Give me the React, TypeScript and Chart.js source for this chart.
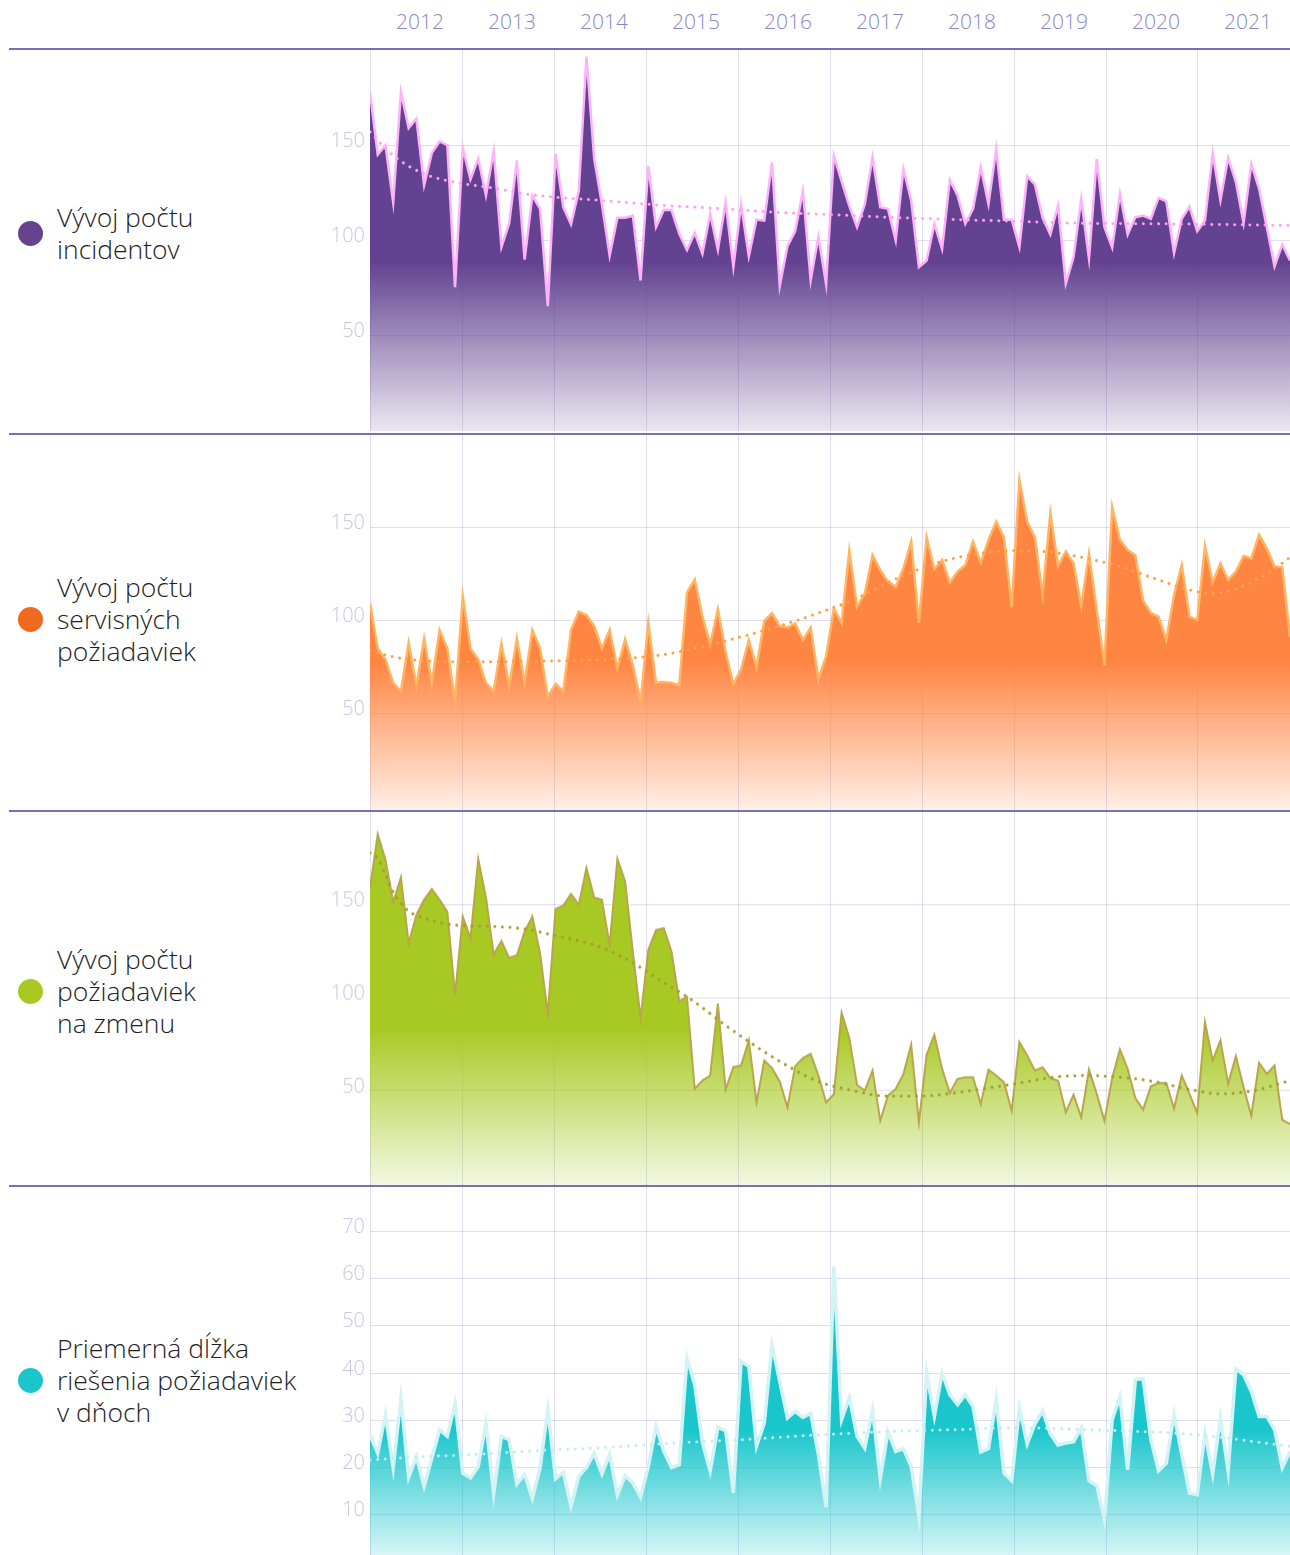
import React, { useEffect, useRef } from 'react';
import { Chart, registerables } from 'chart.js';

Chart.register(...registerables);

const FONT = '"Open Sans", "Noto Sans", sans-serif';

// ---------- data ----------
const YEARS = ['2012', '2013', '2014', '2015', '2016', '2017', '2018', '2019', '2020', '2021'];
const LAST_INDEX = 119; // monthly points 0..119

const incidents = [
  178, 145, 150, 120, 178, 159, 164, 129, 146, 152, 150, 75.5,
  148.6, 132, 143, 123.6, 147, 96.5, 109, 142, 90, 123.6, 116.6, 65.5,
  145.5, 117.5, 108.5, 126, 196.5, 143, 119, 92, 112, 112, 113, 79,
  139, 107, 116, 116, 103.5, 95, 104, 93, 114, 95, 120, 86,
  119, 91.6, 111, 110.5, 141, 76, 97, 105, 126, 79, 102, 77,
  144.6, 131, 118, 107, 119, 143.7, 117.5, 116.6, 100, 137.6, 121, 86,
  89.5, 108.7, 95.6, 131.8, 123.6, 108.7, 116.6, 138.5, 119, 148, 110.9, 110.9,
  96.5, 133.6, 129.4, 111.9, 103.1, 118.4, 77.3, 91.2, 121.9, 90.4, 142.8, 107,
  96.2, 124.5, 103.1, 112.2, 113.1, 111.4, 122.4, 120.6, 93.3, 111.4, 117.8, 104.9,
  110.5, 145.5, 121, 143.4, 130.6, 109.1, 140.2, 127.1, 107, 86.4, 97.9, 89.5,
];
const incidentsTrendX = [0, 3, 7, 11, 16, 20, 24, 29, 33, 37, 42, 46, 50, 55, 59, 67, 76, 84, 93, 102, 110, 119];
const incidentsTrendY = [157, 144.6, 135, 130.6, 127.5, 124.5, 122.7, 121.3, 120, 118.7, 117.5, 116.6, 115.4, 114.3, 113.7, 112.2, 111, 110, 109, 108.8, 108.4, 107.9];

const service = [
  109.5, 85, 79, 66.5, 62, 88, 64.7, 90.3, 66.5, 94.8, 85, 56.3,
  113, 85, 79, 66.5, 62, 87.6, 64.7, 90.3, 66.5, 94.8, 85, 59,
  66, 62, 94.8, 104.7, 102.9, 97, 85, 95, 74.2, 89.8, 76, 56.3,
  98.7, 66.5, 67, 66.5, 65.2, 114.9, 122, 102, 87.3, 106, 83, 65.8,
  73.7, 89.4, 75, 99.8, 103.8, 97, 96.2, 98.4, 89.4, 96.2, 68.3, 80.8,
  106.5, 98.7, 137.5, 107.3, 114.5, 135, 127, 120.8, 118, 128, 142.3, 98.7,
  144.6, 127.4, 132.4, 120.3, 126.2, 129.7, 142.3, 131, 143.2, 153, 144.6, 107,
  175.4, 153, 144.6, 113.6, 157.5, 129.2, 137, 130.6, 107.7, 135.7, 105.6, 76,
  161, 143.2, 137.8, 135, 110.6, 104, 102, 89.4, 113.6, 129.7, 102, 100.2,
  140, 120.3, 130.6, 121.7, 126.2, 134.6, 133.3, 145.9, 138.7, 128.9, 128.5, 91.2,
];
const serviceTrendX = [0, 3, 7, 11.5, 16, 20, 24.5, 29, 33, 37.5, 42, 46, 50.4, 54.7, 58, 62.5, 66.8, 71, 75.5, 79.8, 84, 88.4, 92.7, 97, 101.4, 105.7, 108.7, 112.2, 116.5, 119];
const serviceTrendY = [83.7, 80.5, 78.3, 77.8, 77.8, 78, 78.3, 78.7, 79.6, 81.4, 85, 89, 93.9, 99.3, 104, 111, 120, 127.4, 133.3, 136.4, 137.5, 136.4, 133.3, 128.9, 122.6, 116.7, 114.5, 117.2, 126.2, 133.9];

const changes = [
  159, 188, 174.3, 151.4, 164.7, 129.3, 144.6, 152.7, 158.6, 152.7, 146.4, 101.7,
  143.7, 132, 174.8, 154, 123.3, 130.5, 121.5, 122.9, 135.6, 143.7, 123.9, 91.4,
  147.8, 149.6, 155.8, 150, 169.8, 154, 152.7, 128.4, 174.8, 162.6, 124.8, 89.1,
  125.7, 136.5, 137.4, 124.8, 98.1, 100.5, 50.9, 55.4, 58.1, 96.8, 50.5, 62.6,
  63.5, 77, 43.7, 66.2, 62.1, 54.9, 41, 63.2, 67.5, 69.8, 58.1, 43.7,
  48, 92, 78.3, 53, 50, 60.8, 33.8, 47.3, 50.9, 59, 74.7, 32.9,
  69.3, 80.1, 61.7, 48.7, 56.3, 57.2, 57.2, 42.8, 61.3, 58.1, 54.5, 39.2,
  76.1, 68.9, 60.8, 62.6, 56.7, 55.4, 38.3, 47.7, 35.6, 61.3, 48.2, 33.8,
  56.7, 72.2, 61.7, 45.9, 39.7, 52.3, 54.1, 54.1, 40.4, 58.1, 48.2, 37.9,
  86.9, 66.2, 77, 53.6, 68.6, 51.8, 36.5, 65, 59, 63.5, 34.3, 32,
];
const changesTrendX = [0, 1, 2, 3, 4.6, 7, 11.5, 16, 20, 24.5, 29, 33, 37.5, 42, 46, 50.4, 54.7, 58.2, 62.5, 66.8, 71, 75.5, 79.8, 84, 88.4, 92.7, 97, 101.4, 105.7, 110, 114.3, 119];
const changesTrendY = [178, 175, 166, 157, 148, 142.8, 138.9, 138.3, 137, 132.9, 128.4, 121.2, 109.5, 97.7, 85.1, 72.5, 61.7, 54.5, 50, 47, 47, 48.7, 51.3, 54.1, 57.2, 58.1, 57.2, 54.9, 50.9, 48.2, 50, 55.4];

const resolution = [
  26.9, 23, 31.2, 19.9, 34.7, 17.9, 22.3, 16, 22, 28, 26.6, 33.6,
  18.8, 17.8, 20.2, 29.4, 14.4, 26.6, 25.9, 16.5, 18.6, 13.4, 19.9, 32.2,
  17.6, 19, 11.8, 18.1, 20, 23, 18.6, 22.8, 14.1, 18.3, 16.7, 13.7,
  20.2, 28.7, 23.4, 20, 20.6, 43.2, 37.5, 25.2, 19.2, 28.5, 27.8, 14.6,
  42.5, 41.4, 24.5, 29.4, 46, 38.2, 30.5, 31.9, 30.6, 31.5, 22.7, 11.6,
  62.6, 30.1, 34.8, 26.6, 24.1, 32.2, 17.6, 27.6, 23.4, 24, 20.2, 9.6,
  40, 30.8, 40, 35.4, 33.3, 35.4, 32.9, 23.3, 24, 34.4, 18.8, 17.2,
  32.6, 25, 29.2, 32, 27.1, 24.7, 25.2, 25.4, 28.4, 17.2, 16.2, 8.9,
  30.1, 35, 19.5, 38.6, 38.8, 25.9, 19.3, 20.9, 31.2, 22.7, 14.6, 14.2,
  27.3, 18.6, 30.5, 19.2, 40.9, 39.6, 36.1, 30.8, 30.8, 28, 19.9, 23.4,
];
const resolutionTrendX = [0, 7, 11.5, 16, 20, 24.5, 29, 33, 37.5, 42, 46, 50.4, 54.7, 58.2, 66.8, 75.5, 84, 92.7, 101.4, 105.7, 110, 114.3, 119];
const resolutionTrendY = [21.6, 22.3, 22.6, 23, 23.4, 23.8, 24.1, 24.5, 25, 25.4, 25.7, 26.1, 26.6, 26.9, 27.6, 28, 28.4, 28, 27.5, 27.1, 26.4, 25.5, 24.5];

const LABEL_INCIDENTS = ['Vývoj počtu', 'incidentov'];
const LABEL_SERVICE = ['Vývoj počtu', 'servisných', 'požiadaviek'];
const LABEL_CHANGES = ['Vývoj počtu', 'požiadaviek', 'na zmenu'];
const LABEL_RESOLUTION = ['Priemerná dĺžka', 'riešenia požiadaviek', 'v dňoch'];

// ---------- panel specs (layout / style) ----------
type Panel = {
  values: number[];
  trendX: number[];
  trendY: number[];
  yMin: number;
  yMax: number;
  step: number;
  fill: [number, number, number];
  line: string;
  lineWidth: number;
  trend: string;
  dot: string;
  label: string[];
  top: number;
  height: number;
  labelY: number;
};

const PANELS: Panel[] = [
  { values: incidents, trendX: incidentsTrendX, trendY: incidentsTrendY, yMin: 0, yMax: 200, step: 50,
    fill: [99, 67, 145], line: '#ffb2fb', lineWidth: 2.5, trend: '#ff9ef5', dot: '#65438f',
    label: LABEL_INCIDENTS, top: 50, height: 381, labelY: 233 },
  { values: service, trendX: serviceTrendX, trendY: serviceTrendY, yMin: -1.7, yMax: 200, step: 50,
    fill: [255, 133, 67], line: '#ffb562', lineWidth: 2.5, trend: '#ffa247', dot: '#ef6a1f',
    label: LABEL_SERVICE, top: 434, height: 376, labelY: 619 },
  { values: changes, trendX: changesTrendX, trendY: changesTrendY, yMin: -1.4, yMax: 200, step: 50,
    fill: [168, 201, 35], line: '#b9a54a', lineWidth: 2, trend: '#a59d2c', dot: '#a8c923',
    label: LABEL_CHANGES, top: 812, height: 373.5, labelY: 991 },
  { values: resolution, trendX: resolutionTrendX, trendY: resolutionTrendY, yMin: 0, yMax: 80, step: 10,
    fill: [25, 198, 204], line: '#d3f3f5', lineWidth: 3.5, trend: '#c3edf1', dot: '#1ac5cc',
    label: LABEL_RESOLUTION, top: 1184, height: 378, labelY: 1380 },
];

const GRID = 'rgba(95, 85, 175, 0.2)';

function PanelChart({ p }: { p: Panel }) {
  const ref = useRef<HTMLCanvasElement>(null);
  useEffect(() => {
    const canvas = ref.current;
    if (!canvas) return;
    const [r, g, b] = p.fill;
    const peak = Math.max(...p.values);
    const chart = new Chart(canvas, {
      type: 'line',
      data: {
        datasets: [
          {
            data: p.trendX.map((x, i) => ({ x, y: p.trendY[i] })),
            borderColor: p.trend,
            borderWidth: 3,
            borderDash: [0.01, 7.6],
            borderCapStyle: 'round',
            pointRadius: 0,
            fill: false,
            cubicInterpolationMode: 'monotone',
            order: 0,
          },
          {
            data: p.values.map((y, i) => ({ x: i, y })),
            borderColor: p.line,
            borderWidth: p.lineWidth,
            borderJoinStyle: 'miter',
            pointRadius: 0,
            tension: 0,
            fill: 'start',
            order: 1,
            backgroundColor: (ctx: any) => {
              const c = ctx.chart;
              const area = c.chartArea;
              if (!area || !c.scales.y) return `rgb(${r},${g},${b})`;
              const topPx = c.scales.y.getPixelForValue(peak);
              const grad = c.ctx.createLinearGradient(0, topPx, 0, area.bottom);
              grad.addColorStop(0, `rgba(${r},${g},${b},1)`);
              grad.addColorStop(0.55, `rgba(${r},${g},${b},1)`);
              grad.addColorStop(1, `rgba(${r},${g},${b},0.13)`);
              return grad;
            },
          },
        ],
      },
      options: {
        animation: false,
        responsive: false,
        maintainAspectRatio: false,
        devicePixelRatio: 1,
        layout: { padding: 0 },
        plugins: { legend: { display: false }, tooltip: { enabled: false } },
        scales: {
          x: {
            type: 'linear',
            min: 0,
            max: LAST_INDEX,
            z: 1,
            border: { display: false },
            grid: { color: GRID, drawTicks: false, lineWidth: 1 },
            ticks: { display: false },
            afterBuildTicks: (s: any) => {
              s.ticks = YEARS.map((_, k) => ({ value: (k * LAST_INDEX) / YEARS.length }));
            },
            afterFit: (s: any) => {
              s.height = 0;
            },
          },
          y: {
            min: p.yMin,
            max: p.yMax,
            z: 1,
            border: { display: false },
            grid: { color: GRID, drawTicks: false, lineWidth: 1 },
            afterBuildTicks: (s: any) => {
              const t: any[] = [];
              for (let v = p.step; v < p.yMax; v += p.step) t.push({ value: v });
              s.ticks = t;
            },
            ticks: {
              padding: 5,
              labelOffset: -4,
              color: '#c9c5e3',
              font: { family: FONT, size: 20, weight: '300' as any },
              callback: (v: any) => String(v),
            },
            afterFit: (s: any) => {
              s.width = 50;
              s.paddingTop = 0;
              s.paddingBottom = 0;
            },
          },
        },
      },
    } as any);
    return () => chart.destroy();
  }, [p]);
  return (
    <canvas
      ref={ref}
      width={970}
      height={p.height}
      style={{ position: 'absolute', left: 320, top: p.top, width: 970, height: p.height }}
    />
  );
}

const SEPARATORS = [48, 432.5, 809.5, 1185];

export default function App() {
  useEffect(() => {
    document.body.style.margin = '0';
  }, []);
  return (
    <div
      style={{
        position: 'relative',
        width: 1290,
        height: 1555,
        overflow: 'hidden',
        background: '#fff',
        fontFamily: FONT,
      }}
    >
      <div style={{ position: 'absolute', left: 374, top: 0, width: 920, height: 43, display: 'flex' }}>
        {YEARS.map((y) => (
          <div
            key={y}
            style={{ flex: 1, textAlign: 'center', lineHeight: '43px', fontSize: 21, fontWeight: 300, color: '#8986c4' }}
          >
            {y}
          </div>
        ))}
      </div>
      {PANELS.map((p, i) => (
        <PanelChart key={i} p={p} />
      ))}
      {SEPARATORS.map((t, i) => (
        <div key={i} style={{ position: 'absolute', left: 9, top: t, width: 1281, height: 2, background: '#7472b5' }} />
      ))}
      {PANELS.map((p, i) => (
        <div
          key={'l' + i}
          style={{
            position: 'absolute',
            left: 18,
            top: p.labelY,
            transform: 'translateY(-50%)',
            display: 'flex',
            alignItems: 'center',
          }}
        >
          <div style={{ width: 25, height: 25, borderRadius: '50%', background: p.dot, flex: 'none' }} />
          <div style={{ marginLeft: 14, fontSize: 26.5, fontWeight: 300, lineHeight: '32px', color: '#1e1e1e', whiteSpace: 'nowrap' }}>
            {p.label.map((t, k) => (
              <div key={k}>{t}</div>
            ))}
          </div>
        </div>
      ))}
    </div>
  );
}
